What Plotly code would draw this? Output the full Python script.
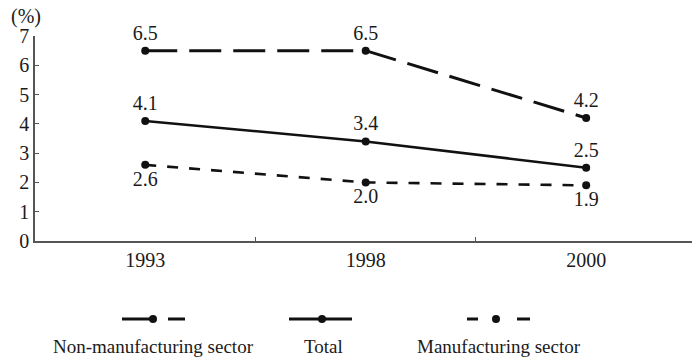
import plotly.graph_objects as go

years = ["1993", "1998", "2000"]
non_manufacturing = [6.5, 6.5, 4.2]
total = [4.1, 3.4, 2.5]
manufacturing = [2.6, 2.0, 1.9]
y_ticks = [0, 1, 2, 3, 4, 5, 6, 7]

SERIF = "Liberation Serif"
INK = "#111111"
TEXT = "#1a1a1a"

fig = go.Figure()

series = [
    ("Non-manufacturing sector", non_manufacturing, "32px,12px", 3, "top center"),
    ("Total", total, "solid", 2.6, "top center"),
    ("Manufacturing sector", manufacturing, "11px,11px", 2.6, "bottom center"),
]
for name, vals, dash, width, tpos in series:
    fig.add_trace(go.Scatter(
        x=years, y=vals, name=name,
        mode="lines+markers+text",
        line=dict(color=INK, width=width, dash=dash),
        marker=dict(color=INK, size=8),
        text=[f"{v:.1f}" for v in vals],
        textposition=tpos,
        textfont=dict(family=SERIF, size=20, color=TEXT),
        cliponaxis=False,
        showlegend=False,
    ))

# plot-area geometry in pixels (used to place the legend below the axis)
L, R, T, B = 35, 692, 36, 241
def px(x):
    return (x - L) / (R - L)
def py(y):
    return (B - y) / (B - T)

shapes = []
annotations = []
leg_y = 319
def seg(x0, x1, w=3):
    shapes.append(dict(type="line", xref="paper", yref="paper",
                       x0=px(x0), x1=px(x1), y0=py(leg_y), y1=py(leg_y),
                       line=dict(color=INK, width=w)))
def dot(cx, r=4):
    shapes.append(dict(type="circle", xref="paper", yref="paper",
                       x0=px(cx - r), x1=px(cx + r), y0=py(leg_y + r), y1=py(leg_y - r),
                       fillcolor=INK, line=dict(color=INK, width=0)))

# Non-manufacturing sector: long dash pattern
seg(122, 153); dot(153); seg(168, 185)
# Total: solid line
seg(289, 352); dot(322)
# Manufacturing sector: short dashes
seg(467, 478); dot(496); seg(517, 530)

for label, cx in [("Non-manufacturing sector", 153), ("Total", 323), ("Manufacturing sector", 499)]:
    annotations.append(dict(text=label, xref="paper", yref="paper",
                            x=px(cx), y=py(346), showarrow=False,
                            xanchor="center", yanchor="middle",
                            font=dict(family=SERIF, size=19, color=TEXT)))

annotations.append(dict(text="(%)", xref="paper", yref="paper",
                        x=px(26), y=py(17), showarrow=False,
                        xanchor="center", yanchor="middle",
                        font=dict(family=SERIF, size=20, color=TEXT)))

fig.update_layout(
    width=692, height=358,
    margin=dict(l=L, r=692 - R, t=T, b=358 - B),
    paper_bgcolor="white", plot_bgcolor="white",
    shapes=shapes, annotations=annotations,
    xaxis=dict(
        type="category", range=[-0.5, 2.48],
        showline=True, linecolor="#555", linewidth=1.5,
        showgrid=False, zeroline=False,
        tickson="boundaries", ticks="inside", ticklen=4, tickcolor="#555",
        tickfont=dict(family=SERIF, size=20, color=TEXT),
        fixedrange=True,
    ),
    yaxis=dict(
        range=[0, 7], tickvals=y_ticks,
        showline=True, linecolor="#555", linewidth=1.5,
        showgrid=False, zeroline=False,
        ticks="inside", ticklen=4, tickcolor="#555",
        tickfont=dict(family=SERIF, size=20, color=TEXT),
        fixedrange=True,
    ),
    showlegend=False,
)

fig.write_html("out.html")
